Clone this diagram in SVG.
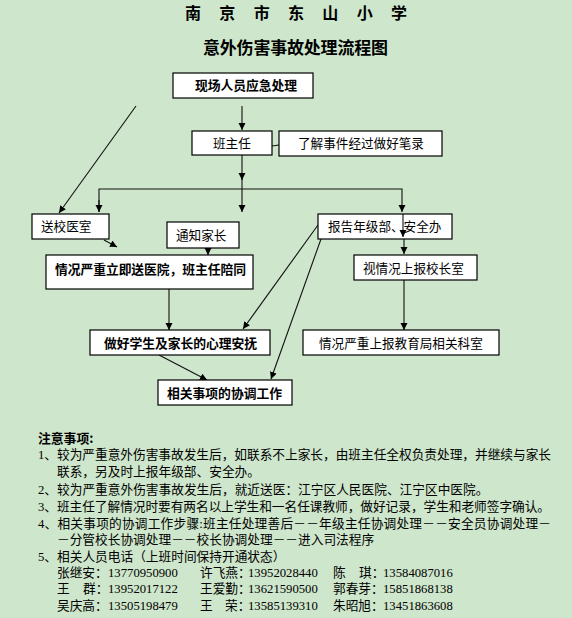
<svg xmlns="http://www.w3.org/2000/svg" width="572" height="618" viewBox="0 0 572 618">
<style>
text{font-family:"Liberation Serif","Noto Sans CJK SC",serif;fill:#000;}
.t{font-size:12.6px;}
.b{font-size:12.8px;font-weight:bold;font-family:"Noto Sans CJK SC",sans-serif;}
.n{font-size:12.7px;}
rect.box{fill:#fff;stroke:#000;stroke-width:1.2;}
#connectors line,#connectors path{stroke:#111;stroke-width:1.1;fill:none;}
</style>
<defs>
<marker id="ah" markerUnits="userSpaceOnUse" markerWidth="8" markerHeight="8" refX="7" refY="3.5" orient="auto">
<path d="M0,0 L7,3.5 L0,7 z" fill="#000"/>
</marker>
</defs>
<rect width="572" height="618" fill="#cee6cb"/>
<g id="title">
<text x="185 219.3 253.7 288 322.3 356.7 391" y="19" style="font-size:16px;font-weight:bold;font-family:'Noto Sans CJK SC',sans-serif">南京市东山小学</text>
<text x="203" y="54" textLength="185" style="font-size:17px;font-weight:bold;font-family:'Noto Sans CJK SC',sans-serif">意外伤害事故处理流程图</text>
</g>
<g id="connectors">
<line x1="136" y1="106" x2="59" y2="213" marker-end="url(#ah)"/>
<line x1="242" y1="106" x2="242" y2="130" marker-end="url(#ah)"/>
<line x1="272" y1="146" x2="279" y2="145"/>
<line x1="242" y1="155" x2="242" y2="180" marker-end="url(#ah)"/>
<line x1="242" y1="178" x2="242" y2="212" marker-end="url(#ah)"/>
<path d="M99,212 L99,189 L402,189 L402,212" marker-end="url(#ah)"/>
<line x1="99" y1="200" x2="99" y2="212" marker-end="url(#ah)"/>
<line x1="403" y1="214" x2="403" y2="237" marker-end="url(#ah)"/>
<line x1="404" y1="239" x2="404" y2="254" marker-end="url(#ah)"/>
<line x1="104" y1="240" x2="117" y2="247" marker-end="url(#ah)"/>
<line x1="208" y1="248" x2="208" y2="255" marker-end="url(#ah)"/>
<line x1="169" y1="289" x2="169" y2="330" marker-end="url(#ah)"/>
<line x1="318" y1="225" x2="243" y2="329" marker-end="url(#ah)"/>
<line x1="321" y1="239" x2="271" y2="379" marker-end="url(#ah)"/>
<line x1="159" y1="355" x2="207" y2="380" marker-end="url(#ah)"/>
<line x1="404" y1="280" x2="404" y2="330" marker-end="url(#ah)"/>
</g>
<g id="n1"><rect class="box" x="173" y="73" width="140" height="25"/><text class="b" x="195" y="90" textLength="102">现场人员应急处理</text></g>
<g id="n2"><rect class="box" x="192" y="131" width="80" height="24"/><text class="t" x="213" y="148">班主任</text></g>
<g id="n3"><rect class="box" x="279" y="131" width="163" height="25"/><text class="t" x="298" y="148">了解事件经过做好笔录</text></g>
<g id="n4"><rect class="box" x="32" y="214" width="77" height="25"/><text class="t" x="41" y="231">送校医室</text></g>
<g id="n5"><rect class="box" x="167" y="222" width="72" height="26"/><text class="t" x="176" y="239.5">通知家长</text></g>
<g id="n6"><rect class="box" x="318" y="214" width="134" height="25"/><text class="t" x="328" y="231">报告年级部、安全办</text></g>
<line x1="403" y1="214" x2="403" y2="237" stroke="#111" stroke-width="1.1" marker-end="url(#ah)"/>
<g id="n7"><rect class="box" x="46" y="255" width="207" height="34"/><text class="b" x="55" y="274" textLength="191">情况严重立即送医院，班主任陪同</text></g>
<g id="n8"><rect class="box" x="354" y="255" width="123" height="25"/><text class="t" x="363" y="273">视情况上报校长室</text></g>
<g id="n9"><rect class="box" x="90" y="330" width="180" height="25"/><text class="b" x="104" y="347.5" textLength="153">做好学生及家长的心理安抚</text></g>
<g id="n10"><rect class="box" x="303" y="330" width="196" height="25"/><text class="t" x="319" y="347.5">情况严重上报教育局相关科室</text></g>
<g id="n11"><rect class="box" x="158" y="380" width="134" height="25"/><text class="b" x="167" y="397.5" textLength="115">相关事项的协调工作</text></g>
<g id="notes">
<text class="b" x="38" y="443">注意事项:</text>
<text class="n" x="38" y="459" textLength="513">1、较为严重意外伤害事故发生后，如联系不上家长，由班主任全权负责处理，并继续与家长</text>
<text class="n" x="57" y="476">联系，另及时上报年级部、安全办。</text>
<text class="n" x="38" y="494">2、较为严重意外伤害事故发生后，就近送医：江宁区人民医院、江宁区中医院。</text>
<text class="n" x="38" y="511" textLength="512">3、班主任了解情况时要有两名以上学生和一名任课教师，做好记录，学生和老师签字确认。</text>
<text class="n" x="38" y="528" textLength="513">4、相关事项的协调工作步骤:班主任处理善后－－年级主任协调处理－－安全员协调处理－</text>
<text class="n" x="57" y="544">－分管校长协调处理－－校长协调处理－－进入司法程序</text>
<text class="n" x="38" y="561">5、相关人员电话（上班时间保持开通状态）</text>
<text class="n" y="577"><tspan x="57">张继安：</tspan><tspan x="108">13770950900</tspan><tspan x="200">许飞燕：</tspan><tspan x="248">13952028440</tspan><tspan x="333">陈</tspan><tspan x="359">琪：</tspan><tspan x="383">13584087016</tspan></text>
<text class="n" y="593"><tspan x="57">王</tspan><tspan x="83">群：</tspan><tspan x="108">13952017122</tspan><tspan x="200">王爱勤：</tspan><tspan x="248">13621590500</tspan><tspan x="333">郭春芽：</tspan><tspan x="383">15851868138</tspan></text>
<text class="n" y="610"><tspan x="57">吴庆高：</tspan><tspan x="108">13505198479</tspan><tspan x="200">王</tspan><tspan x="225">荣：</tspan><tspan x="248">13585139310</tspan><tspan x="333">朱昭旭：</tspan><tspan x="383">13451863608</tspan></text>
</g>
</svg>
